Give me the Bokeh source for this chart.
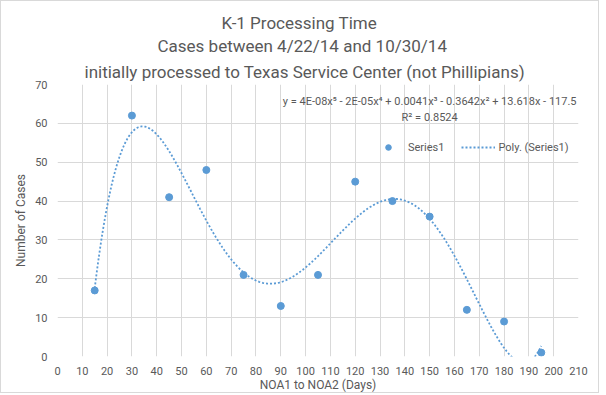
import numpy as np
from bokeh.plotting import figure
from bokeh.models import Label, Legend, LegendItem, Range1d, FixedTicker, Title
from bokeh.embed import file_html
from bokeh.resources import INLINE

# ---- data ----
days = [15, 30, 45, 60, 75, 90, 105, 120, 135, 150, 165, 180, 195]
cases = [17, 62, 41, 48, 21, 13, 21, 45, 40, 36, 12, 9, 1]
x_ticks = list(range(0, 211, 10))
y_ticks = list(range(0, 71, 10))
title_lines = [
    "K-1 Processing Time",
    "Cases between 4/22/14 and 10/30/14",
    "initially processed to Texas Service Center (not Phillipians)",
]
equation = "y = 4E-08x\u2075 - 2E-05x\u2074 + 0.0041x\u00b3 - 0.3642x\u00b2 + 13.618x - 117.5"
r2_text = "R\u00b2 = 0.8524"

# polynomial (order 5) trendline fitted to the data, as in the spreadsheet
coef = np.polyfit(days, cases, 5)
trend_x = np.linspace(min(days), max(days), 400)
trend_y = np.polyval(coef, trend_x)

BLUE = "#5B9BD5"
GREY_TXT = "#595959"
GRID = "#D9D9D9"
FONT = "Roboto"

p = figure(width=599, height=393, output_backend="svg", toolbar_location=None,
           x_range=Range1d(0, 210), y_range=Range1d(0, 70),
           min_border_left=56, min_border_right=22, min_border_top=83, min_border_bottom=36)
p.outline_line_color = None
p.background_fill_color = "white"
p.border_fill_color = "white"
p.styles = {"border": "1px solid #D9D9D9"}


def make_title(txt, standoff, offset):
    # left-aligned with an offset so that each line is centred on the whole chart
    return Title(text=txt, align="left", text_font=FONT, text_font_size="17px",
                 text_font_style="normal", text_color=GREY_TXT, standoff=standoff, offset=offset)


# p.title is the outermost line; added titles stack outward from the plot
p.title = make_title(title_lines[0], 1, 164)
p.add_layout(make_title(title_lines[2], 6, 27), "above")
p.add_layout(make_title(title_lines[1], 1, 100), "above")

trend = p.line(trend_x, trend_y, line_color=BLUE, line_width=1.8, line_dash="2 2")
pts = p.scatter(days, cases, size=7, color=BLUE)

p.xaxis.ticker = FixedTicker(ticks=x_ticks)
p.yaxis.ticker = FixedTicker(ticks=y_ticks)
for ax in (p.xaxis[0], p.yaxis[0]):
    ax.axis_line_color = None
    ax.major_tick_line_color = None
    ax.minor_tick_line_color = None
    ax.major_tick_out = 0
    ax.major_tick_in = 0
    ax.major_label_text_font = FONT
    ax.major_label_text_font_size = "11px"
    ax.major_label_text_color = GREY_TXT
    ax.axis_label_text_font = FONT
    ax.axis_label_text_font_size = "12px"
    ax.axis_label_text_font_style = "normal"
    ax.axis_label_text_color = GREY_TXT
p.xaxis.axis_label = "NOA1 to NOA2 (Days)"
p.yaxis.axis_label = "Number of Cases"
p.xaxis.major_label_standoff = 10
p.xaxis.axis_label_standoff = 0
p.yaxis.major_label_standoff = 10
p.yaxis.axis_label_standoff = 4

p.xgrid.grid_line_color = GRID
p.ygrid.grid_line_color = GRID
p.xgrid.ticker = FixedTicker(ticks=x_ticks)
p.ygrid.ticker = FixedTicker(ticks=y_ticks)

p.add_layout(Label(x=150, y=65.5, text=equation, text_align="center", text_baseline="middle",
                   text_font=FONT, text_font_size="11px", text_color=GREY_TXT))
p.add_layout(Label(x=150, y=61.5, text=r2_text, text_align="center", text_baseline="middle",
                   text_font=FONT, text_font_size="11px", text_color=GREY_TXT))

legend = Legend(items=[LegendItem(label="Series1", renderers=[pts]),
                       LegendItem(label="Poly. (Series1)", renderers=[trend])],
                orientation="horizontal", location=(314, 202))
legend.padding = 0
legend.margin = 0
legend.spacing = 17
legend.glyph_width = 34
legend.glyph_height = 14
legend.label_height = 14
legend.label_standoff = 3
legend.border_line_color = None
legend.background_fill_alpha = 0
legend.label_text_font = FONT
legend.label_text_font_size = "11px"
legend.label_text_color = GREY_TXT
p.add_layout(legend)

open("out.html", "w").write(file_html(p, INLINE))
